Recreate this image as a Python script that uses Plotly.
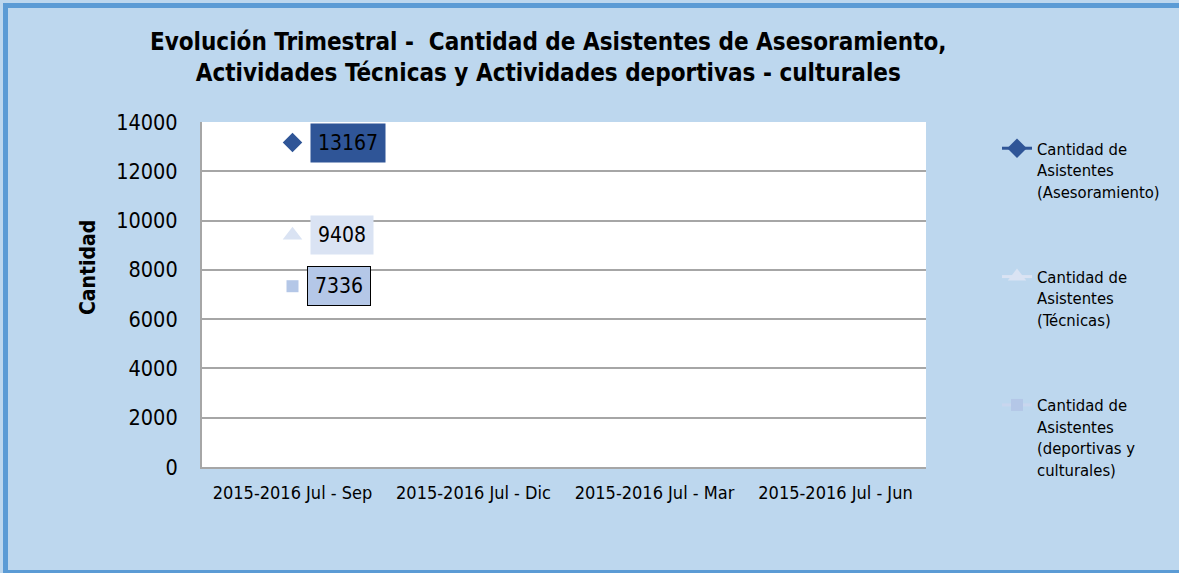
import plotly.graph_objects as go

categories = ["2015-2016 Jul - Sep", "2015-2016 Jul - Dic", "2015-2016 Jul - Mar", "2015-2016 Jul - Jun"]
asesoramiento = [13167, None, None, None]
tecnicas = [9408, None, None, None]
deportivas = [7336, None, None, None]

series_names = [
    "Cantidad de<br>Asistentes<br>(Asesoramiento)",
    "Cantidad de<br>Asistentes<br>(Técnicas)",
    "Cantidad de<br>Asistentes<br>(deportivas y<br>culturales)",
]
y_ticks = [0, 2000, 4000, 6000, 8000, 10000, 12000, 14000]

FONT = "DejaVu Sans Condensed, Liberation Sans Narrow, sans-serif"
BG = "#BDD7EE"

W, H = 1179, 573
ML, MR, MT, MB = 202, 253, 122, 106
PW, PH = W - ML - MR, H - MT - MB

styles = [
    dict(line="#2F5597", marker="#2F5597", symbol="diamond", size=15, box="#2F5597", border="rgba(0,0,0,0)", xshift=55),
    dict(line="#DAE3F3", marker="#DAE3F3", symbol="triangle-up", size=17, box="#DAE3F3", border="rgba(0,0,0,0)", xshift=49),
    dict(line="#C9D6EE", marker="#B4C7E7", symbol="square", size=12, box="#B4C7E7", border="#000000", xshift=46),
]
all_series = [asesoramiento, tecnicas, deportivas]

fig = go.Figure()
for i, (vals, name, st) in enumerate(zip(all_series, series_names, styles)):
    fig.add_trace(go.Scatter(
        x=categories, y=vals, name=name, mode="lines+markers",
        line=dict(color=st["line"], width=3),
        marker=dict(color=st["marker"], symbol=st["symbol"], size=st["size"]),
        legendgroup=f"g{i}", showlegend=True, cliponaxis=False,
    ))
    for c, v in zip(categories, vals):
        if v is not None:
            fig.add_annotation(
                x=c, y=v, text=str(v), showarrow=False, xshift=st["xshift"],
                bgcolor=st["box"], bordercolor=st["border"], borderwidth=1,
                borderpad=7, font=dict(family=FONT, size=21, color="#000000"),
            )

# y-axis title (placed slightly above centre as in the reference)
fig.add_annotation(
    text="<b>Cantidad</b>", xref="paper", yref="paper",
    x=(88 - ML) / PW, y=(H - MB - 268) / PH, textangle=-90, showarrow=False,
    xanchor="center", yanchor="middle",
    font=dict(family=FONT, size=21, color="#000000"),
)

fig.update_layout(
    width=W, height=H,
    paper_bgcolor=BG, plot_bgcolor="#FFFFFF",
    margin=dict(l=ML, r=MR, t=MT, b=MB),
    font=dict(family=FONT, color="#000000"),
    title=dict(
        text="<b>Evolución Trimestral -  Cantidad de Asistentes de Asesoramiento,<br>Actividades Técnicas y Actividades deportivas - culturales</b>",
        x=0.465, xanchor="center", y=1 - 50 / H, yanchor="top",
        font=dict(family=FONT, size=24, color="#000000"),
    ),
    showlegend=True,
    legend=dict(
        xref="container", yref="container", x=997 / W, y=1 - 131 / H,
        xanchor="left", yanchor="top", bgcolor="rgba(0,0,0,0)",
        font=dict(family=FONT, size=16.5, color="#000000"),
        tracegroupgap=61, valign="top", maxheight=560,
    ),
    shapes=[dict(type="rect", xref="paper", yref="paper",
                 x0=(5.5 - ML) / PW, x1=1 + (MR + 10) / PW,
                 y0=-(MB - 0.5) / PH, y1=1 + (MT - 5.5) / PH,
                 line=dict(color="#5B9BD5", width=5), layer="below")],
)
fig.update_xaxes(
    type="category", categoryorder="array", categoryarray=categories,
    range=[-0.5, 3.5], showgrid=False, showline=True, linecolor="#A6A6A6", linewidth=2,
    ticks="outside", ticklen=8, tickcolor="rgba(0,0,0,0)",
    tickfont=dict(family=FONT, size=18, color="#000000"),
)
fig.update_yaxes(
    range=[0, 14000], tickvals=y_ticks, tickformat="d", showgrid=True, gridcolor="#A6A6A6", gridwidth=1.5,
    showline=True, linecolor="#A6A6A6", linewidth=2, zeroline=False,
    ticks="outside", ticklen=18, tickcolor="rgba(0,0,0,0)",
    tickfont=dict(family=FONT, size=21.5, color="#000000"),
)

fig.write_html("out.html", config={"displayModeBar": False},
               post_script="document.body.style.margin='0';")
